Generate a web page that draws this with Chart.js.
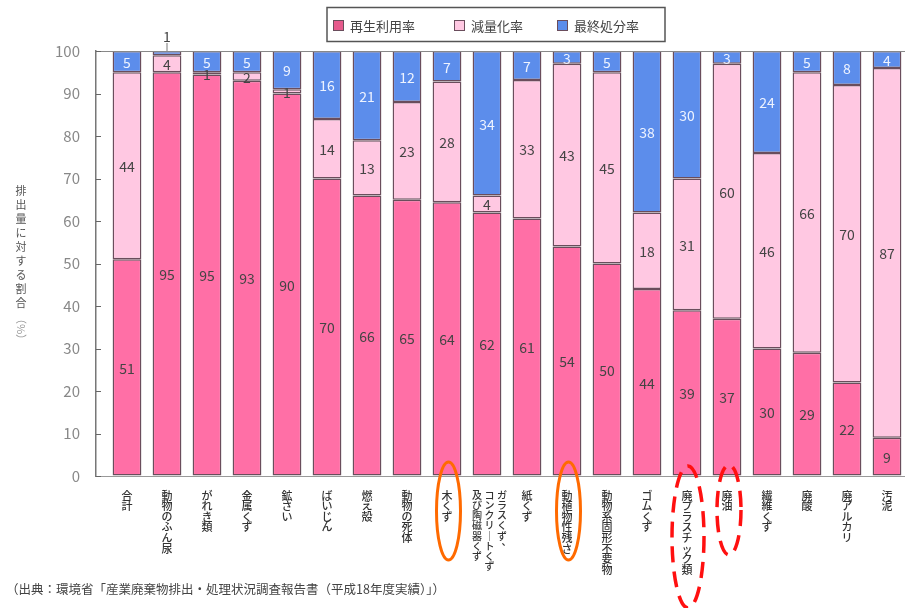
<!DOCTYPE html>
<html><head><meta charset="utf-8">
<script src="https://cdn.jsdelivr.net/npm/chart.js@4.4.1/dist/chart.umd.min.js"></script>
<style>html,body{margin:0;padding:0;background:#fff;}</style>
</head><body>
<canvas id="c" width="905" height="608"></canvas>
<script>
// ---- data ----
const categories = ['合計','動物のふん尿','がれき類','金属くず','鉱さい','ばいじん','燃え殻','動物の死体','木くず',
  'ガラスくず、\nコンクリートくず\n及び陶磁器くず','紙くず','動植物性残さ','動物系固形不要物','ゴムくず','廃プラスチック類',
  '廃油','繊維くず','廃酸','廃アルカリ','汚泥'];
const recycleRate   = [51,95,94.5,93,90,70,66,65,64.4,62,60.6,54,50,44,39,37,30,29,22,9];
const reductionRate = [44,4,0.5,2,1,14,13,23,28.4,4,32.6,43,45,18,31,60,46,66,70,87];
const disposalRate  = [5,1,5,5,9,16,21,12,7.2,34,6.8,3,5,38,30,3,24,5,8,4];
const seriesNames = ['再生利用率','減量化率','最終処分率'];
const yTicks = [0,10,20,30,40,50,60,70,80,90,100];
const yTitle = '排出量に対する割合';
const yUnit = '（%）';
const sourceNote = '（出典：環境省「産業廃棄物排出・処理状況調査報告書（平成18年度実績）」）';
const circledOrange = ['木くず','動植物性残さ'];
const circledRedDashed = ['廃プラスチック類','廃油'];

const FONT = '"Noto Sans CJK JP", "Noto Sans", sans-serif';
const COLORS = ['#FF6FA6','#FFC8E2','#5C8DEB'];
const BORDER = '#6a4d5c';

function pts(arr){ return arr.map((v,i)=>({x:i,y:v})); }

function drawVertical(ctx, text, x, y, step){
  for (let k=0;k<text.length;k++){
    let ch = text[k];
    let dx = 0, dy = 0;
    if (ch==='ー'){ ch='｜'; }
    if (ch==='、'){ dx = step*0.45; dy = -step*0.45; }
    ctx.fillText(ch, x+dx, y + k*step + dy);
  }
}

const custom = {
  id:'custom',
  afterDatasetsDraw(chart){
    const ctx = chart.ctx;
    const ca = chart.chartArea;
    const ys = chart.scales.y, xs = chart.scales.x;
    ctx.save();
    // top line at 100
    ctx.strokeStyle = '#888'; ctx.lineWidth = 1.2;
    ctx.beginPath(); ctx.moveTo(ca.left, ys.getPixelForValue(100)+0.5); ctx.lineTo(ca.right, ys.getPixelForValue(100)+0.5); ctx.stroke();
    // inward tick marks
    ctx.strokeStyle = '#666'; ctx.lineWidth = 1;
    yTicks.forEach(v=>{ const py = Math.round(ys.getPixelForValue(v))+0.5; ctx.beginPath(); ctx.moveTo(ca.left, py); ctx.lineTo(ca.left+5, py); ctx.stroke(); });

    // value labels
    ctx.font = '14px ' + FONT; ctx.textAlign='center'; ctx.textBaseline='middle';
    chart.data.datasets.forEach((ds,di)=>{
      const meta = chart.getDatasetMeta(di);
      meta.data.forEach((el,i)=>{
        const v = ds.data[i].y;
        const txt = String(Math.round(v));
        if (di===2 && v < 2){
          const top = el.y;
          ctx.strokeStyle = '#777'; ctx.lineWidth = 1;
          ctx.beginPath(); ctx.moveTo(el.x, top); ctx.lineTo(el.x, top-8); ctx.stroke();
          ctx.fillStyle = '#444';
          ctx.fillText(txt, el.x, top-14);
          return;
        }
        const cy = (el.y + el.base)/2;
        ctx.fillStyle = (di===2) ? '#eef3ff' : '#444';
        ctx.fillText(txt, el.x, cy+1);
      });
    });

    // category labels (vertical)
    ctx.fillStyle = '#333';
    ctx.textAlign='center'; ctx.textBaseline='top';
    categories.forEach((name,i)=>{
      const px = xs.getPixelForValue(i);
      const cols = name.split('\n');
      if (cols.length===1){
        ctx.font = '500 11px ' + FONT;
        drawVertical(ctx, name, px, 490, 10.6);
      } else {
        ctx.font = '500 10px ' + FONT;
        cols.forEach((c,k)=>{ drawVertical(ctx, c, px + 15 - k*12.5, 490, 10.2); });
      }
    });

    // y title vertical
    ctx.font = '11px ' + FONT; ctx.fillStyle = '#555';
    drawVertical(ctx, yTitle, 21, 185, 14);
    ctx.fillStyle = '#999';
    ctx.save();
    ctx.translate(21, 185 + yTitle.length*14 + 18);
    ctx.rotate(Math.PI/2);
    ctx.textAlign='center'; ctx.textBaseline='middle';
    ctx.fillText(yUnit, 0, 0);
    ctx.restore();

    // legend
    ctx.strokeStyle = '#555'; ctx.lineWidth = 1.5;
    ctx.strokeRect(327, 7.5, 338, 34);
    const legX = [333, 454, 557];
    ctx.font = '13px ' + FONT; ctx.textAlign='left'; ctx.textBaseline='middle';
    seriesNames.forEach((n,k)=>{
      ctx.fillStyle = k===0 ? '#E65A8C' : COLORS[k];
      ctx.fillRect(legX[k], 20, 11, 11);
      ctx.strokeStyle = BORDER; ctx.lineWidth = 1;
      ctx.strokeRect(legX[k]+0.5, 20.5, 10, 10);
      ctx.fillStyle = '#444';
      ctx.fillText(n, legX[k]+17, 26);
    });

    // source note
    ctx.font = '12.5px ' + FONT; ctx.fillStyle = '#444'; ctx.textAlign='left'; ctx.textBaseline='middle';
    ctx.fillText(sourceNote, 6, 589);

    // annotations
    ctx.lineWidth = 3;
    ctx.strokeStyle = '#FF6A00';
    circledOrange.forEach(n=>{
      const px = xs.getPixelForValue(categories.indexOf(n));
      ctx.beginPath(); ctx.ellipse(px+1.5, 511, 12, 49, 0, 0, Math.PI*2); ctx.stroke();
    });
    ctx.strokeStyle = '#FF1010'; ctx.lineWidth = 3.5;
    ctx.setLineDash([16,9]);
    const ann = [{n:circledRedDashed[0], cy:537, rx:16, ry:71, dx:1},{n:circledRedDashed[1], cy:510, rx:12, ry:45, dx:2}];
    ann.forEach(a=>{
      const px = xs.getPixelForValue(categories.indexOf(a.n));
      ctx.beginPath(); ctx.ellipse(px+a.dx, a.cy, a.rx, a.ry, 0, 0, Math.PI*2); ctx.stroke();
    });
    ctx.setLineDash([]);
    ctx.restore();
  }
};

const mk = (label, arr, k) => ({
  label, data: pts(arr), backgroundColor: COLORS[k], borderColor: BORDER, borderWidth: 1.5,
  borderSkipped: false, categoryPercentage: 1, barPercentage: 0.72
});

new Chart(document.getElementById('c'), {
  type:'bar',
  data:{ datasets:[ mk(seriesNames[0], recycleRate, 0), mk(seriesNames[1], reductionRate, 1), mk(seriesNames[2], disposalRate, 2) ] },
  options:{
    responsive:false, animation:false, devicePixelRatio:1,
    layout:{ padding:{ top:51, bottom:124, left:0, right:0 } },
    plugins:{ legend:{display:false}, tooltip:{enabled:false} },
    scales:{
      x:{ type:'linear', stacked:true, offset:false, min:-0.775, max:19.45,
          ticks:{display:false}, grid:{display:false, offset:false},
          border:{display:true, color:'#999', width:1} },
      y:{ stacked:true, min:0, max:100,
          afterFit(s){ s.width = 96; },
          afterBuildTicks(s){ s.ticks = yTicks.map(v=>({value:v})); },
          ticks:{ font:{ size:15, family:FONT }, color:'#888', padding:16 },
          grid:{ display:true, drawOnChartArea:false, drawTicks:false },
          border:{ display:true, color:'#777', width:1.5 } }
    }
  },
  plugins:[custom]
});
</script>
</body></html>
